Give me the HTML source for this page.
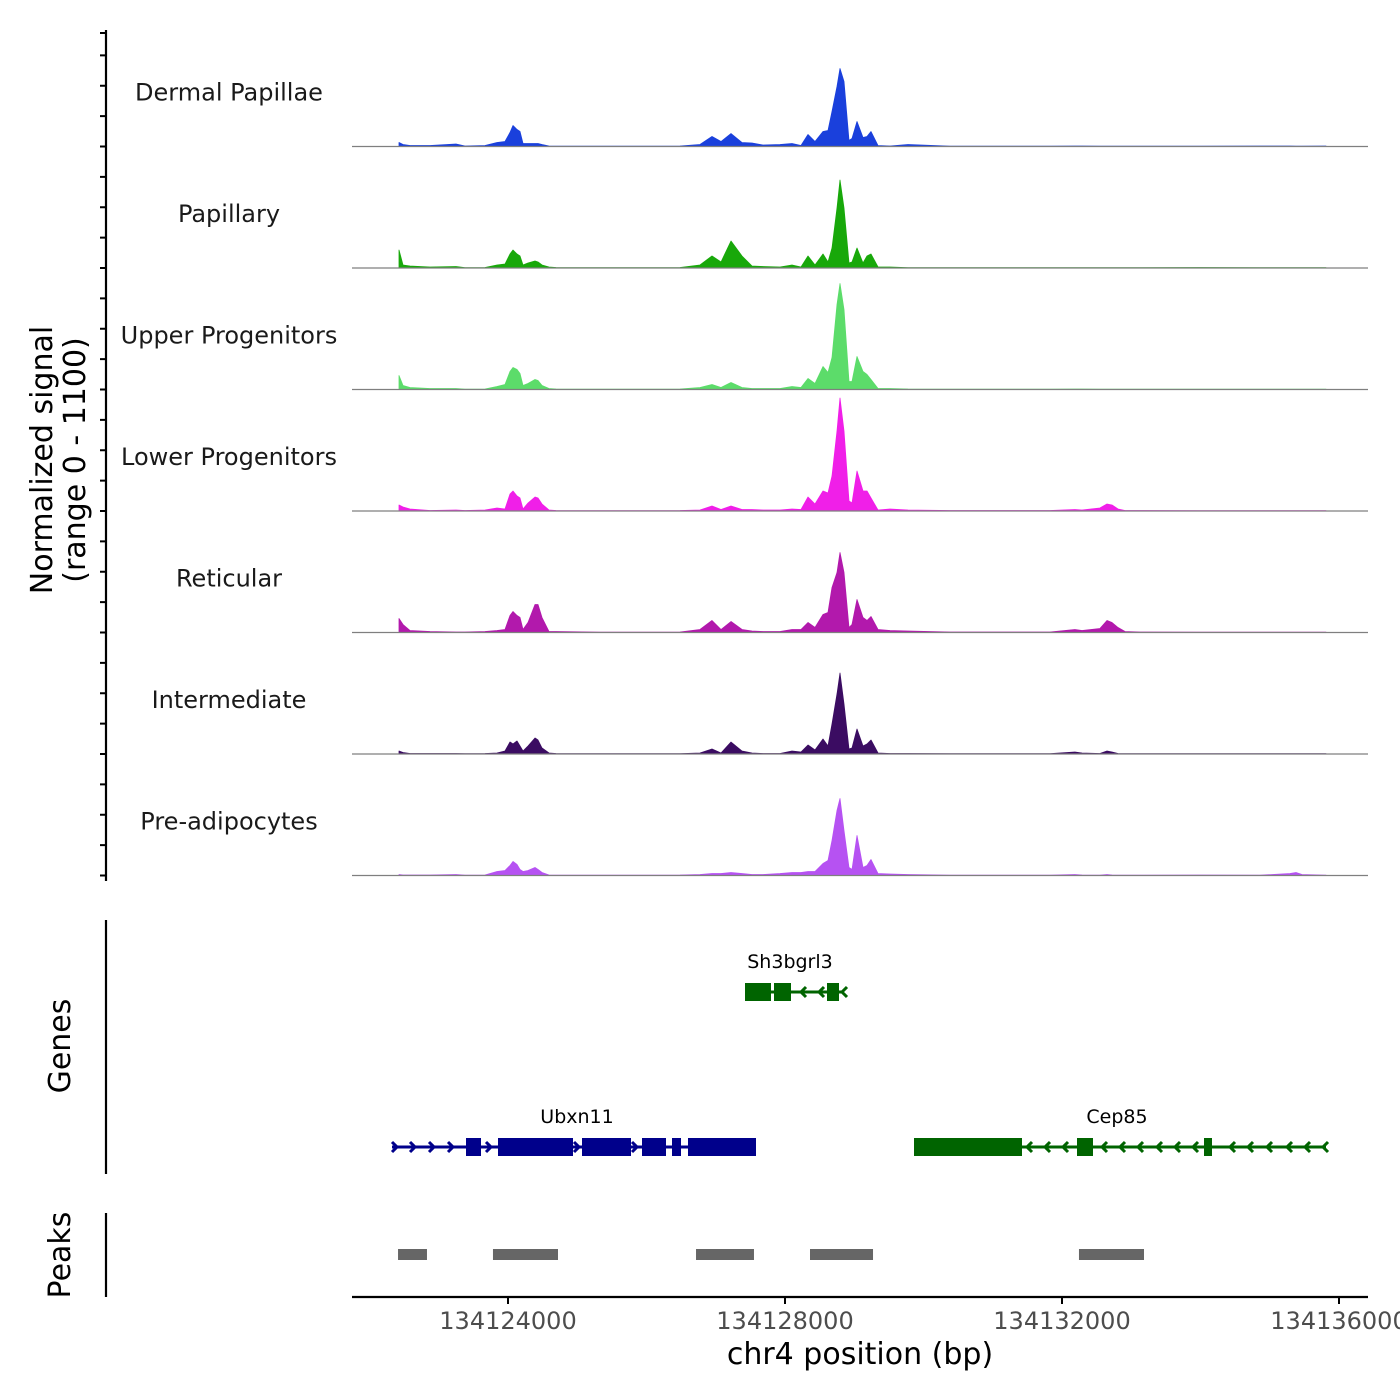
<!DOCTYPE html>
<html><head><meta charset="utf-8"><style>
body{margin:0;background:#fff;}
svg{display:block;font-family:"DejaVu Sans","Liberation Sans",sans-serif;}
</style></head><body>
<svg id="chart" width="1400" height="1400" viewBox="0 0 1400 1400" xmlns="http://www.w3.org/2000/svg"></svg>
<script>
// genomic positions (bp) of signal sample points
const positions = [134122426,134122484,134122585,134122874,134123249,134123379,134123668,134123841,134123957,134124029,134124072,134124130,134124173,134124217,134124289,134124390,134124433,134124491,134124592,134124693,134125328,134126484,134126772,134126946,134127076,134127220,134127379,134127523,134127682,134127928,134128101,134128231,134128332,134128433,134128549,134128621,134128679,134128751,134128794,134128852,134128924,134128967,134129040,134129126,134129184,134129242,134129343,134129516,134129776,134130383,134131826,134132187,134132289,134132548,134132650,134132722,134132809,134132910,134133126,134133992,134134858,134135292,134135379,134135465,134135812];
const trackNames = ["Dermal Papillae","Papillary","Upper Progenitors","Lower Progenitors","Reticular","Intermediate","Pre-adipocytes"];
// scaled signal values (track full height = 121.5)
const dermalPapillae = [4,2,1,1,2.5,0.5,1,4,5,14,21,17,15,3,3,3,3,2,0.5,0.3,0.3,0.5,2,10,5,13,4,3.5,1.5,2,3,1,12,5,15,16,35,60,78,65,6,8,25,9,10,15,1,0.5,2,0.3,0.3,0.5,0.5,0.3,0.3,0.3,0.3,0.3,0.3,0.3,0.5,0.5,0.3,0.3,0.5];
const papillary = [18,3,2,1,1.5,0.3,0.5,3,4,14,18,14,12,3,5,7,6,3,1,0.5,0.3,0.5,3,12,6,27,12,2,1.5,1,3,1,12,3,14,6,20,60,88,60,5,6,20,5,12,14,1,1,0.3,0.3,0.3,0.3,0.3,0.3,0.3,0.3,0.3,0.3,0.3,0.5,0.3,0.3,0.3,0.3,0.3];
const upperProgenitors = [14,4,2,1,1,0.3,0.5,3,5,18,22,20,16,4,6,10,9,4,1,0.5,0.3,0.5,2,5,2,7,2,1,1,1,3,2,11,6,23,17,32,85,106,80,8,8,33,18,15,10,1,1,0.5,0.3,0.3,0.5,0.5,0.3,0.3,0.3,0.3,0.3,0.3,0.3,0.3,0.3,0.3,0.3,0.3];
const lowerProgenitors = [6,4,2,0.5,1,0.5,1,3,2,17,20,15,13,2,8,14,13,7,1,0.5,0.3,0.5,1,5,1.5,5,1.5,1.5,1,1,2,1.5,14,7,20,18,35,80,113,80,10,8,40,20,20,13,1,2,1,0.5,0.5,1.5,1,3,7,6,2,0.5,0.5,0.3,0.3,0.3,0.3,0.3,0.3];
const reticular = [14,8,2,1,0.5,0.5,1,2,3,17,21,17,15,3,10,28,28,15,1,1,0.3,0.5,3,12,3,11,3,1.5,1,1,3,3,10,5,18,20,45,60,80,60,5,8,33,15,12,16,3,2,1.5,0.5,0.5,3,2,4,12,10,5,1,0.5,0.3,0.3,0.3,0.3,0.3,0.3];
const intermediate = [3,1.5,0.5,0.5,0.5,0.3,0.5,1,3,12,10,13,8,3,8,16,14,6,1,0.5,0.3,0.3,1,5,1,12,3,1,0.5,0.5,3,2,9,4,15,8,30,60,81,50,5,6,25,8,10,14,1,0.5,0.5,0.3,0.3,2,1,0.5,3,2,0.5,0.3,0.3,0.3,0.3,0.3,0.3,0.3,0.3];
const preAdipocytes = [1,0.5,0.5,0.5,1,0.3,0.5,4,5,10,14,11,6,4,5,8,6,3,0.5,0.3,0.3,0.5,1,2,2,3,2,1,1,2,3,3,4,4,12,15,35,65,77,45,8,6,40,8,10,16,2,1.5,1,0.3,0.3,1,0.5,0.3,1,0.5,0.3,0.3,0.3,0.5,0.3,2,3,1,0.3];
const trackColors = ["#1a40dc","#18a80a","#5cdc6a","#f01fe8","#b219ac","#3b0c62","#b652f2"];
const peakStarts = [134122412,134123783,134126715,134128361,134132245];
const peakEnds = [134122830,134124722,134127552,134129271,134133184];
const xTicks = [134124000,134128000,134132000,134136000];
const xTickLabels = ["134124000","134128000","134132000","134136000"];

const NS="http://www.w3.org/2000/svg";
const svg=document.getElementById('chart');
function el(tag,attrs,parent){const e=document.createElementNS(NS,tag);for(const k in attrs)e.setAttribute(k,attrs[k]);(parent||svg).appendChild(e);return e;}
const xScale = bp => 508 + (bp-134124000)*277/4000;
const trackH = 121.5, yMax = 121.5;
const firstBase = 146.5;
const seriesList=[dermalPapillae,papillary,upperProgenitors,lowerProgenitors,reticular,intermediate,preAdipocytes];

// left axis
const ax=el('g',{});


el('line',{x1:106,y1:30,x2:106,y2:881,stroke:'#000','stroke-width':2.2},ax);
for(let i=0;i<=27;i++){const y=875.5-i*trackH/4;el('line',{x1:100,y1:y,x2:106,y2:y,stroke:'#000','stroke-width':2},ax);}
el('line',{x1:100,y1:33,x2:106,y2:33,stroke:'#000','stroke-width':2},ax);
const yt=el('text',{transform:'translate(52,460) rotate(-90)','text-anchor':'middle','font-size':30,fill:'#000'});


yt.textContent='Normalized signal';
const yt2=el('text',{transform:'translate(85,460) rotate(-90)','text-anchor':'middle','font-size':30,fill:'#000'});


yt2.textContent='(range 0 - 1100)';

seriesList.forEach((vals,t)=>{
  const base=firstBase+t*trackH;
  const g=el('g',{});
  
  
  const n=Math.min(vals.length,positions.length);
  let d='M'+xScale(positions[0]).toFixed(1)+','+base;
  for(let i=0;i<n;i++){d+=' L'+xScale(positions[i]).toFixed(1)+','+(base-vals[i]/yMax*trackH).toFixed(1);}
  d+=' L'+xScale(positions[n-1]).toFixed(1)+','+base+' Z';
  const p=el('path',{d:d,fill:trackColors[t],stroke:trackColors[t],'stroke-width':0.8,'stroke-linejoin':'round'},g);
  
  
  el('line',{x1:352,y1:base,x2:1368,y2:base,stroke:'#7f7f7f','stroke-width':1.2},g);
  const lb=el('text',{x:229,y:base-46,'text-anchor':'middle','font-size':24,fill:'#1a1a1a'},g);
  
  
  lb.textContent=trackNames[t];
});

// genes panel
const gg=el('g',{});


el('line',{x1:106,y1:920,x2:106,y2:1174,stroke:'#000','stroke-width':2.2},gg);
const gt=el('text',{transform:'translate(70,1046) rotate(-90)','text-anchor':'middle','font-size':30},gg);
gt.textContent='Genes';
function gene(name,color,y,x1,x2,exons,arrows,dir,lx){
  const g=el('g',{},gg);
  
  
  el('line',{x1:x1,y1:y,x2:x2,y2:y,stroke:color,'stroke-width':3},g);
  exons.forEach(e=>el('rect',{x:e[0],y:y-9,width:e[1]-e[0],height:18,fill:color},g));
  arrows.forEach(a=>{const s=dir*5;el('polyline',{points:(a-s)+','+(y-5)+' '+a+','+y+' '+(a-s)+','+(y+5),fill:'none',stroke:color,'stroke-width':3},g);});
  const t=el('text',{x:lx,y:y-24,'text-anchor':'middle','font-size':19,fill:'#000'},g);
  t.textContent=name;
}
gene('Sh3bgrl3','#006400',992,745,842,[[745,771],[774,791],[827,839]],[801,819,842],-1,790);
gene('Ubxn11','#00008b',1147,392,756,[[466,481],[498,573],[582,631],[642,666],[672,681],[688,756]],[397,415,434,453,491,579,637],1,577);
gene('Cep85','#006400',1147,914,1326,[[914,1022],[1077,1093],[1204,1212]],[1027,1045,1063,1102,1120,1138,1157,1175,1193,1230,1248,1267,1287,1305,1323],-1,1117);

// peaks panel
const pg=el('g',{});


el('line',{x1:106,y1:1213,x2:106,y2:1297,stroke:'#000','stroke-width':2.2},pg);
const pt=el('text',{transform:'translate(70,1255) rotate(-90)','text-anchor':'middle','font-size':30},pg);
pt.textContent='Peaks';
peakStarts.forEach((s,i)=>{
  const r=el('rect',{x:xScale(s),y:1249,width:xScale(peakEnds[i])-xScale(s),height:11,fill:'#666666'},pg);
  
  
});

// x axis
const xg=el('g',{});


el('line',{x1:352,y1:1297,x2:1368,y2:1297,stroke:'#000','stroke-width':2.2},xg);
xTicks.forEach((v,i)=>{
  const x=xScale(v);
  el('line',{x1:x,y1:1297,x2:x,y2:1304,stroke:'#000','stroke-width':2},xg);
  const t=el('text',{x:x,y:1329,'text-anchor':'middle','font-size':24,fill:'#4d4d4d'},xg);
  
  
  t.textContent=xTickLabels[i];
});
const xt=el('text',{x:860,y:1364,'text-anchor':'middle','font-size':30,fill:'#000'},xg);


xt.textContent='chr4 position (bp)';
</script>
</body></html>
